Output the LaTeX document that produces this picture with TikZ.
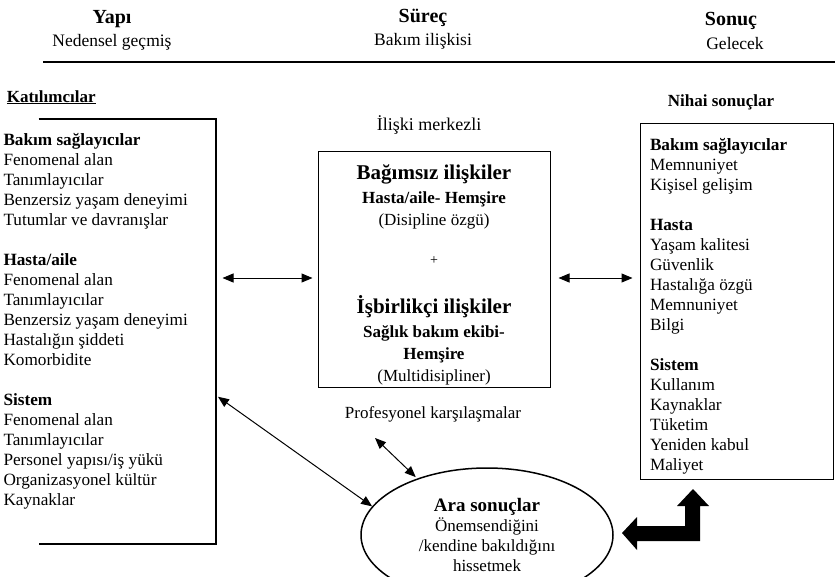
\documentclass[tikz,border=0pt]{standalone}
\usepackage{fontspec}
\setmainfont{Liberation Serif}
\usetikzlibrary{arrows.meta,shapes.geometric,calc}
\tikzset{
hdr/.style={font=\fontsize{20}{20}\selectfont\bfseries,anchor=base},
subhdr/.style={font=\fontsize{17.5}{18}\selectfont,anchor=base},
txt/.style={font=\fontsize{17}{20}\selectfont,anchor=base},
boxtxt/.style={font=\fontsize{17.2}{20}\selectfont,align=left,inner sep=0pt,anchor=north west}
}

\begin{document}
\begin{tikzpicture}[x=1pt,y=-1pt,line width=1pt,>={Triangle[length=11pt,width=9pt]}]
\clip (0,0) rectangle (837,576);

\node[hdr] (yapi) at (112,23) {Yapı};
\node[subhdr] (neden) at (112,46) {Nedensel geçmiş};
\node[hdr] (surec) at (423,22) {Süreç};
\node[subhdr] (bakim) at (423,45) {Bakım ilişkisi};
\node[hdr] (sonuc) at (731,25) {Sonuç};
\node[subhdr] (gelecek) at (735,49) {Gelecek};
\draw[line width=1.3pt] (43,62) -- (835,62);

% katilimcilar
\node[txt,anchor=base west,font=\fontsize{17}{20}\selectfont\bfseries] (katil) at (3,102) {\underline{Katılımcılar}};
\node[inner sep=0pt,minimum width=176pt,minimum height=424pt] (lbox) at (127,331) {};
\draw[line width=2pt] (lbox.north west) -| (lbox.south east) -- (lbox.south west);
\node[boxtxt] (ltext) at (3,131) {\strut\textbf{Bakım sağlayıcılar}\\ Fenomenal alan\\ Tanımlayıcılar\\
Benzersiz yaşam deneyimi\\ Tutumlar ve davranışlar\\[20pt]
\textbf{Hasta/aile}\\ Fenomenal alan\\ Tanımlayıcılar\\ Benzersiz yaşam deneyimi\\
Hastalığın şiddeti\\ Komorbidite\\[20pt]
\textbf{Sistem}\\ Fenomenal alan\\ Tanımlayıcılar\\ Personel yapısı/iş yükü\\
Organizasyonel kültür\\ Kaynaklar};

% iliski merkezli
\node[txt,font=\fontsize{18}{20}\selectfont] (merkez) at (429,130) {İlişki merkezli};
\node[draw,inner sep=0pt,minimum width=232pt,minimum height=236pt] (cbox) at (434,269) {};
\node[font=\fontsize{17}{22}\selectfont,align=center,inner sep=0pt,anchor=north] (ctext)
  at ([yshift=-13pt]cbox.north) {{\fontsize{21}{22}\selectfont\bfseries\strut Bağımsız ilişkiler}\\[2pt]
\textbf{Hasta/aile- Hemşire}\\ (Disipline özgü)\\[17pt]
{\fontsize{14}{22}\selectfont +}\\[27pt]
{\fontsize{21}{22}\selectfont\bfseries İşbirlikçi ilişkiler}\\[2pt]
\textbf{Sağlık bakım ekibi-}\\ \textbf{Hemşire}\\ (Multidisipliner)};
\node[txt] (prof) at (433,418) {Profesyonel karşılaşmalar};

% nihai sonuclar
\node[txt,font=\fontsize{17}{20}\selectfont\bfseries] (nihai) at (721,106) {Nihai sonuçlar};
\node[draw,inner sep=0pt,minimum width=193pt,minimum height=356pt] (rbox) at (736.5,301) {};
\node[boxtxt] (rtext) at ([xshift=10pt,yshift=-13pt]rbox.north west) {\strut\textbf{Bakım sağlayıcılar}\\
Memnuniyet\\ Kişisel gelişim\\[20pt]
\textbf{Hasta}\\ Yaşam kalitesi\\ Güvenlik\\ Hastalığa özgü\\ Memnuniyet\\ Bilgi\\[20pt]
\textbf{Sistem}\\ Kullanım\\ Kaynaklar\\ Tüketim\\ Yeniden kabul\\ Maliyet};

% ara sonuclar
\node[draw,ellipse,line width=1.5pt,inner sep=0pt,minimum width=252pt,minimum height=134pt,
  font=\fontsize{17}{20}\selectfont,align=center] (ell) at (487,535)
  {{\fontsize{19}{20}\selectfont\bfseries Ara sonuçlar}\\ Önemsendiğini\\ /kendine bakıldığını\\ hissetmek};

\coordinate (m1) at ([yshift=-9pt]cbox.west);
\coordinate (p1) at (375,438);
\draw[<->,shorten <=7pt,shorten >=5pt] (lbox.east |- m1) -- (m1);
\draw[<->,shorten <=8pt,shorten >=7pt] (cbox.east |- m1) -- (rbox.west |- m1);
\draw[<->,shorten <=3pt] ([yshift=-64pt]lbox.east) -- (ell.166);
\draw[<->,shorten >=2pt] (p1) -- (ell.141);

% kalin ok
\fill (622,533) -- (637,517) -- (637,526) -- (685,526) -- (685,506) -- (677,506) -- (693,489)
  -- (709,506) -- (700,506) -- (700,541) -- (637,541) -- (637,550) -- cycle;

\end{tikzpicture}
\end{document}
